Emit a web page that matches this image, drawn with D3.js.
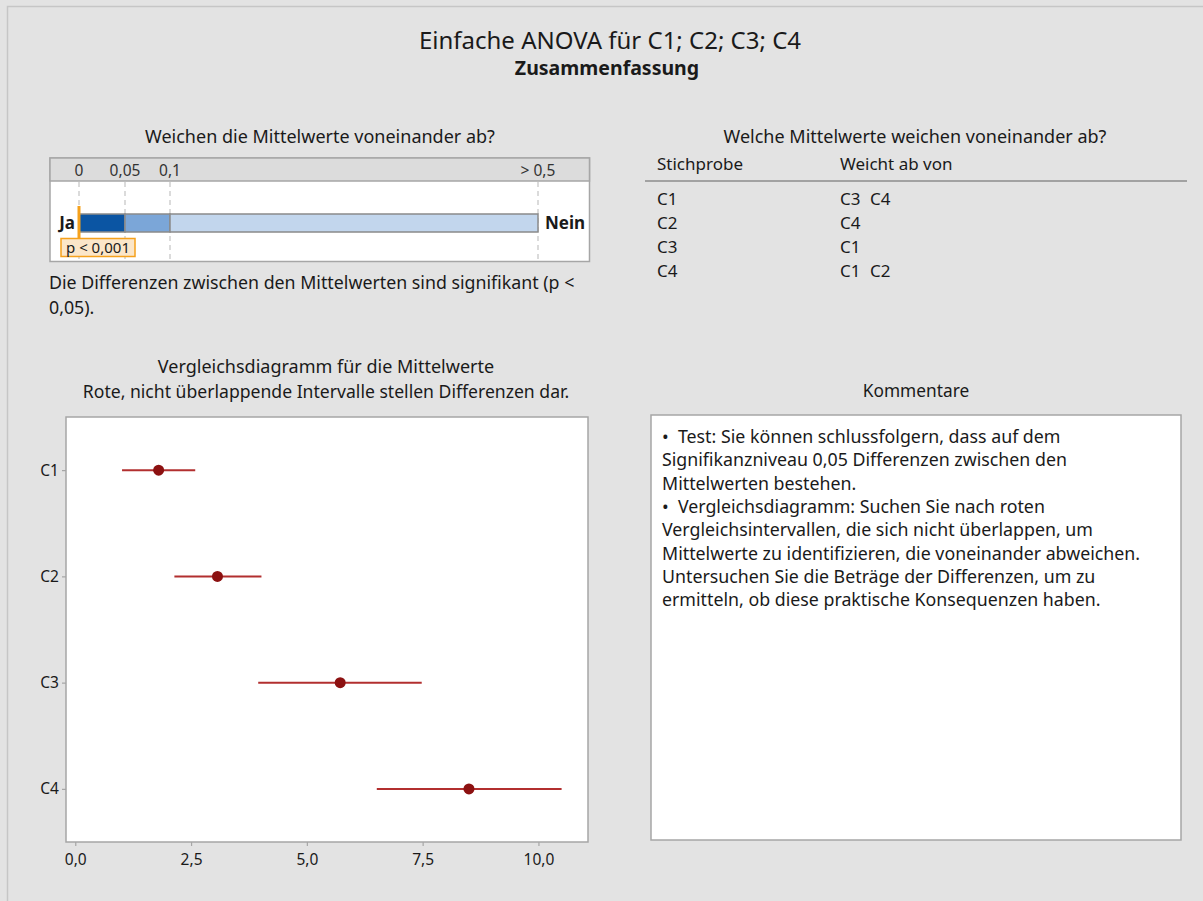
<!DOCTYPE html>
<html>
<head>
<meta charset="utf-8">
<script src="https://cdn.jsdelivr.net/npm/d3@7"></script>
<style>
  html, body { margin: 0; padding: 0; background: #e3e3e3; }
  svg { display: block; font-family: "Segoe UI", "Noto Sans", sans-serif; }
  text { fill: #1a1a1a; }
</style>
</head>
<body>
<svg id="chart" width="1203" height="901"></svg>
<script>
// Interval plot data
const groups = ['C1', 'C2', 'C3', 'C4'];
const means = [1.80, 3.07, 5.72, 8.50];
const lower = [1.01, 2.14, 3.95, 6.51];
const upper = [2.59, 4.02, 7.48, 10.50];
const xTicks = [0, 2.5, 5, 7.5, 10];

// p-value bar
const pTicks = [0, 0.05, 0.1, 0.5];
const pTickLabels = ['0', '0,05', '0,1', '> 0,5'];
const pBands = [[0, 0.05], [0.05, 0.1], [0.1, 0.5]];
const pBandColors = ['#0b55a3', '#7ba6d8', '#c2d6ed'];
const pValue = 0;
const pValueLabel = 'p < 0,001';

// Differences table
const samples = ['C1', 'C2', 'C3', 'C4'];
const differsFrom = [['C3', 'C4'], ['C4'], ['C1'], ['C1', 'C2']];

// Comments
const commentLines = [
    '\u2022  Test: Sie können schlussfolgern, dass auf dem',
    'Signifikanzniveau 0,05 Differenzen zwischen den',
    'Mittelwerten bestehen.',
    '\u2022  Vergleichsdiagramm: Suchen Sie nach roten',
    'Vergleichsintervallen, die sich nicht überlappen, um',
    'Mittelwerte zu identifizieren, die voneinander abweichen.',
    'Untersuchen Sie die Beträge der Differenzen, um zu',
    'ermitteln, ob diese praktische Konsequenzen haben.'
];

const de = d3.formatLocale({ decimal: ',', thousands: '.', grouping: [3], currency: ['', ' €'] });
const svg = d3.select('#chart');

// Outer frame
svg.append('rect')
    .attr('x', 7.5).attr('y', 6.5)
    .attr('width', 1220).attr('height', 920)
    .attr('fill', '#e3e3e3')
    .attr('stroke', '#c6c6c6')
    .attr('stroke-width', 1.5);

// Main title
svg.append('text')
    .attr('x', 610).attr('y', 49)
    .attr('text-anchor', 'middle')
    .style('font-size', '24px')
    .text('Einfache ANOVA für C1; C2; C3; C4');

svg.append('text')
    .attr('x', 607).attr('y', 75)
    .attr('text-anchor', 'middle')
    .style('font-size', '19.5px')
    .style('font-weight', 'bold')
    .text('Zusammenfassung');

// ---- p-value panel ----
const pBox = { x0: 50, x1: 589.5, y0: 158, y1: 261.5, head: 181 };
const pScale = d3.scaleLinear().domain(pTicks).range([79, 125, 170, 538]);

svg.append('text')
    .attr('x', 320).attr('y', 143)
    .attr('text-anchor', 'middle')
    .style('font-size', '18px')
    .text('Weichen die Mittelwerte voneinander ab?');

svg.append('rect')
    .attr('x', pBox.x0).attr('y', pBox.y0)
    .attr('width', pBox.x1 - pBox.x0).attr('height', pBox.y1 - pBox.y0)
    .attr('fill', '#fff')
    .attr('stroke', '#a6a6a6')
    .attr('stroke-width', 1.5);

svg.append('rect')
    .attr('x', pBox.x0).attr('y', pBox.y0)
    .attr('width', pBox.x1 - pBox.x0).attr('height', pBox.head - pBox.y0)
    .attr('fill', '#dcdcdc')
    .attr('stroke', '#a6a6a6')
    .attr('stroke-width', 1.5);

svg.selectAll('.p-grid')
    .data(pTicks)
    .enter()
    .append('line')
    .attr('class', 'p-grid')
    .attr('x1', d => pScale(d)).attr('x2', d => pScale(d))
    .attr('y1', pBox.head + 1).attr('y2', pBox.y1 - 1)
    .attr('stroke', '#c4c4c4')
    .attr('stroke-width', 1.2)
    .attr('stroke-dasharray', '5,4');

svg.selectAll('.p-tick')
    .data(pTicks)
    .enter()
    .append('text')
    .attr('class', 'p-tick')
    .attr('x', d => pScale(d))
    .attr('y', 176)
    .attr('text-anchor', 'middle')
    .style('font-size', '15.5px')
    .style('fill', '#333')
    .text((d, i) => pTickLabels[i]);

svg.selectAll('.p-band')
    .data(pBands)
    .enter()
    .append('rect')
    .attr('class', 'p-band')
    .attr('x', d => pScale(d[0]))
    .attr('width', d => pScale(d[1]) - pScale(d[0]))
    .attr('y', 214).attr('height', 18)
    .attr('fill', (d, i) => pBandColors[i])
    .attr('stroke', '#8a8a8a')
    .attr('stroke-width', 1.5);

svg.append('text')
    .attr('x', 75).attr('y', 229)
    .attr('text-anchor', 'end')
    .style('font-size', '17px')
    .style('font-weight', 'bold')
    .text('Ja');

svg.append('text')
    .attr('x', 545).attr('y', 229)
    .style('font-size', '17px')
    .style('font-weight', 'bold')
    .text('Nein');

// p-value marker
svg.append('rect')
    .attr('x', pScale(pValue) - 1.5).attr('y', 206)
    .attr('width', 3).attr('height', 33)
    .attr('fill', '#f5a11c');

svg.append('rect')
    .attr('x', 61).attr('y', 238.5)
    .attr('width', 74).attr('height', 18)
    .attr('fill', '#fbe6c9')
    .attr('stroke', '#f5a11c')
    .attr('stroke-width', 1.5);

svg.append('text')
    .attr('x', 98).attr('y', 253)
    .attr('text-anchor', 'middle')
    .style('font-size', '15px')
    .text(pValueLabel);

svg.append('text')
    .attr('x', 49).attr('y', 289)
    .style('font-size', '17.8px')
    .text('Die Differenzen zwischen den Mittelwerten sind signifikant (p <');

svg.append('text')
    .attr('x', 49).attr('y', 314)
    .style('font-size', '17.8px')
    .text('0,05).');

// ---- differences table ----
svg.append('text')
    .attr('x', 915).attr('y', 143)
    .attr('text-anchor', 'middle')
    .style('font-size', '18px')
    .text('Welche Mittelwerte weichen voneinander ab?');

svg.append('text')
    .attr('x', 657).attr('y', 170)
    .style('font-size', '17px')
    .text('Stichprobe');

svg.append('text')
    .attr('x', 840).attr('y', 170)
    .style('font-size', '17px')
    .text('Weicht ab von');

svg.append('line')
    .attr('x1', 645).attr('x2', 1187)
    .attr('y1', 181).attr('y2', 181)
    .attr('stroke', '#8c8c8c')
    .attr('stroke-width', 1.5);

const rows = svg.selectAll('.row')
    .data(samples)
    .enter()
    .append('g')
    .attr('class', 'row')
    .attr('transform', (d, i) => `translate(0,${205 + i * 24})`);

rows.append('text')
    .attr('x', 657)
    .style('font-size', '17px')
    .text(d => d);

rows.selectAll('.diff')
    .data((d, i) => differsFrom[i])
    .enter()
    .append('text')
    .attr('class', 'diff')
    .attr('x', (d, j) => 840 + j * 30)
    .style('font-size', '17px')
    .text(d => d);

// ---- interval plot ----
const plot = { x0: 66, x1: 588, y0: 417, y1: 842 };

svg.append('text')
    .attr('x', 326).attr('y', 373)
    .attr('text-anchor', 'middle')
    .style('font-size', '18px')
    .text('Vergleichsdiagramm für die Mittelwerte');

svg.append('text')
    .attr('x', 326).attr('y', 398)
    .attr('text-anchor', 'middle')
    .style('font-size', '17.6px')
    .text('Rote, nicht überlappende Intervalle stellen Differenzen dar.');

const xScale = d3.scaleLinear()
    .domain([-0.2, 11.07])
    .range([plot.x0, plot.x1]);

const yScale = d3.scalePoint()
    .domain(groups)
    .range([plot.y0, plot.y1])
    .padding(0.5);

svg.append('rect')
    .attr('x', plot.x0).attr('y', plot.y0)
    .attr('width', plot.x1 - plot.x0).attr('height', plot.y1 - plot.y0)
    .attr('fill', '#fff')
    .attr('stroke', '#a6a6a6')
    .attr('stroke-width', 1.5);

const xAxis = d3.axisBottom(xScale)
    .tickValues(xTicks)
    .tickSize(4)
    .tickFormat(de.format('.1f'));

const yAxis = d3.axisLeft(yScale)
    .tickSize(4)
    .tickPadding(3);

const gx = svg.append('g')
    .attr('transform', `translate(0,${plot.y1})`)
    .call(xAxis);

const gy = svg.append('g')
    .attr('transform', `translate(${plot.x0},0)`)
    .call(yAxis);

[gx, gy].forEach(g => {
    g.select('.domain').remove();
    g.selectAll('.tick line').attr('stroke', '#a6a6a6').attr('stroke-width', 1.2);
    g.selectAll('.tick text')
        .style('font-size', '15.5px')
        .style('font-family', '"Segoe UI", "Noto Sans", sans-serif')
        .attr('fill', '#1a1a1a');
});
gx.selectAll('.tick text').attr('dy', '1.05em');

const intervals = svg.selectAll('.interval')
    .data(groups)
    .enter()
    .append('g')
    .attr('class', 'interval');

intervals.append('line')
    .attr('x1', (d, i) => xScale(lower[i]))
    .attr('x2', (d, i) => xScale(upper[i]))
    .attr('y1', d => yScale(d))
    .attr('y2', d => yScale(d))
    .attr('stroke', '#b22f2f')
    .attr('stroke-width', 2);

intervals.append('circle')
    .attr('cx', (d, i) => xScale(means[i]))
    .attr('cy', d => yScale(d))
    .attr('r', 5.5)
    .attr('fill', '#8c1111');

// ---- comments ----
svg.append('text')
    .attr('x', 916).attr('y', 397)
    .attr('text-anchor', 'middle')
    .style('font-size', '17.3px')
    .text('Kommentare');

svg.append('rect')
    .attr('x', 651).attr('y', 415)
    .attr('width', 530).attr('height', 425)
    .attr('fill', '#fff')
    .attr('stroke', '#a6a6a6')
    .attr('stroke-width', 1.5);

svg.selectAll('.comment')
    .data(commentLines)
    .enter()
    .append('text')
    .attr('class', 'comment')
    .attr('x', 662)
    .attr('y', (d, i) => 443 + i * 23.3)
    .attr('xml:space', 'preserve')
    .style('font-size', '17.8px')
    .text(d => d);
</script>
</body>
</html>
